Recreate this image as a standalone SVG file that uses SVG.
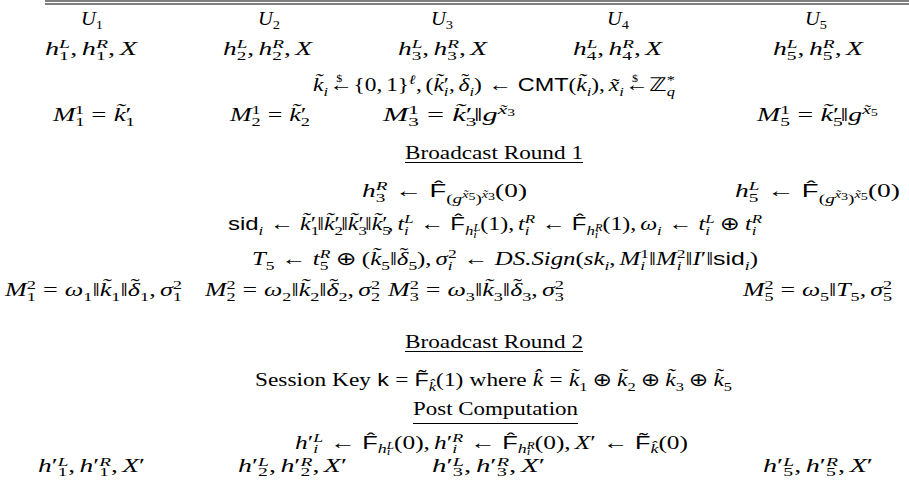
<svg xmlns="http://www.w3.org/2000/svg" width="909" height="494" viewBox="0 0 909 494">
<style>
text{font-family:"Liberation Serif",serif;font-size:18.5px;fill:#000}
.m{font-style:italic}
.s{font-family:"Liberation Sans",sans-serif;font-style:normal}
.b{font-size:13px}
.c{font-size:9.5px}
.z{font-family:"DejaVu Sans",sans-serif;font-style:normal}
.rule{stroke:#000;stroke-width:1.2;fill:none}
</style>
<rect width="909" height="494" fill="#fff"/>
<g id="rules">
<line class="rule" x1="45" y1="1" x2="909" y2="1"/>
<line class="rule" x1="45" y1="4" x2="909" y2="4"/>
<line class="rule" x1="405" y1="162.5" x2="583" y2="162.5"/>
<line class="rule" x1="405" y1="351.5" x2="583" y2="351.5"/>
<line class="rule" x1="413" y1="423.5" x2="578" y2="423.5"/>
</g>
<g id="row-parties">
<text x="81" y="25" textLength="22" lengthAdjust="spacingAndGlyphs"><tspan class="m">U</tspan><tspan class="b" dy="4">1</tspan></text>
<text x="258" y="25" textLength="22" lengthAdjust="spacingAndGlyphs"><tspan class="m">U</tspan><tspan class="b" dy="4">2</tspan></text>
<text x="431" y="25" textLength="22" lengthAdjust="spacingAndGlyphs"><tspan class="m">U</tspan><tspan class="b" dy="4">3</tspan></text>
<text x="607" y="25" textLength="22" lengthAdjust="spacingAndGlyphs"><tspan class="m">U</tspan><tspan class="b" dy="4">4</tspan></text>
<text x="805" y="25" textLength="22" lengthAdjust="spacingAndGlyphs"><tspan class="m">U</tspan><tspan class="b" dy="4">5</tspan></text>
</g>
<g id="row-inputs">
<text x="45" y="55" textLength="92" lengthAdjust="spacingAndGlyphs"><tspan class="m">h</tspan><tspan class="b" dy="5">1</tspan><tspan class="b m" dx="-6.5" dy="-12">L</tspan><tspan dy="7">,</tspan><tspan class="m" dx="3">h</tspan><tspan class="b" dy="5">1</tspan><tspan class="b m" dx="-6.5" dy="-12">R</tspan><tspan dy="7">,</tspan><tspan class="m" dx="3">X</tspan></text>
<text x="223" y="55" textLength="89" lengthAdjust="spacingAndGlyphs"><tspan class="m">h</tspan><tspan class="b" dy="5">2</tspan><tspan class="b m" dx="-6.5" dy="-12">L</tspan><tspan dy="7">,</tspan><tspan class="m" dx="3">h</tspan><tspan class="b" dy="5">2</tspan><tspan class="b m" dx="-6.5" dy="-12">R</tspan><tspan dy="7">,</tspan><tspan class="m" dx="3">X</tspan></text>
<text x="398" y="55" textLength="89" lengthAdjust="spacingAndGlyphs"><tspan class="m">h</tspan><tspan class="b" dy="5">3</tspan><tspan class="b m" dx="-6.5" dy="-12">L</tspan><tspan dy="7">,</tspan><tspan class="m" dx="3">h</tspan><tspan class="b" dy="5">3</tspan><tspan class="b m" dx="-6.5" dy="-12">R</tspan><tspan dy="7">,</tspan><tspan class="m" dx="3">X</tspan></text>
<text x="573" y="55" textLength="89" lengthAdjust="spacingAndGlyphs"><tspan class="m">h</tspan><tspan class="b" dy="5">4</tspan><tspan class="b m" dx="-6.5" dy="-12">L</tspan><tspan dy="7">,</tspan><tspan class="m" dx="3">h</tspan><tspan class="b" dy="5">4</tspan><tspan class="b m" dx="-6.5" dy="-12">R</tspan><tspan dy="7">,</tspan><tspan class="m" dx="3">X</tspan></text>
<text x="773" y="55" textLength="90" lengthAdjust="spacingAndGlyphs"><tspan class="m">h</tspan><tspan class="b" dy="5">5</tspan><tspan class="b m" dx="-6.5" dy="-12">L</tspan><tspan dy="7">,</tspan><tspan class="m" dx="3">h</tspan><tspan class="b" dy="5">5</tspan><tspan class="b m" dx="-6.5" dy="-12">R</tspan><tspan dy="7">,</tspan><tspan class="m" dx="3">X</tspan></text>
</g>
<g id="row-sample">
<text x="313" y="91" textLength="362" lengthAdjust="spacingAndGlyphs"><tspan class="m">k̃</tspan><tspan class="b m" dy="5">i</tspan><tspan dx="1" dy="-5">←</tspan><tspan class="c" dx="-13" dy="-9">$</tspan><tspan dx="9" dy="9">{0,</tspan><tspan dx="3">1}</tspan><tspan class="b m" dy="-7">ℓ</tspan><tspan dy="7">,</tspan><tspan dx="3">(</tspan><tspan class="m">k̃</tspan><tspan class="b m" dy="5">i</tspan><tspan dx="-3.6" dy="-5">′</tspan><tspan>,</tspan><tspan class="m" dx="3">δ</tspan><tspan dx="-6.5" dy="-4">˜</tspan><tspan class="b m" dx="0.3" dy="9">i</tspan><tspan dy="-5">)</tspan><tspan dx="5">←</tspan><tspan class="s" dx="5">CMT</tspan><tspan>(</tspan><tspan class="m">k̃</tspan><tspan class="b m" dy="5">i</tspan><tspan dy="-5">),</tspan><tspan class="m" dx="3">x̃</tspan><tspan class="b m" dy="5">i</tspan><tspan dx="1" dy="-5">←</tspan><tspan class="c" dx="-13" dy="-9">$</tspan><tspan class="z" dx="9" dy="9">ℤ</tspan><tspan class="b m" dy="5">q</tspan><tspan class="b" dx="-6.5" dy="-12">*</tspan></text>
</g>
<g id="row-m1">
<text x="53" y="121" textLength="82" lengthAdjust="spacingAndGlyphs"><tspan class="m">M</tspan><tspan class="b" dy="5">1</tspan><tspan class="b" dx="-6.5" dy="-12">1</tspan><tspan dx="5" dy="7">=</tspan><tspan class="m" dx="5">k̃</tspan><tspan class="b" dy="5">1</tspan><tspan dx="-6.5" dy="-5">′</tspan></text>
<text x="230" y="121" textLength="80" lengthAdjust="spacingAndGlyphs"><tspan class="m">M</tspan><tspan class="b" dy="5">2</tspan><tspan class="b" dx="-6.5" dy="-12">1</tspan><tspan dx="5" dy="7">=</tspan><tspan class="m" dx="5">k̃</tspan><tspan class="b" dy="5">2</tspan><tspan dx="-6.5" dy="-5">′</tspan></text>
<text x="383" y="121" textLength="132" lengthAdjust="spacingAndGlyphs"><tspan class="m">M</tspan><tspan class="b" dy="5">3</tspan><tspan class="b" dx="-6.5" dy="-12">1</tspan><tspan dx="5" dy="7">=</tspan><tspan class="m" dx="5">k̃</tspan><tspan class="b" dy="5">3</tspan><tspan dx="-6.5" dy="-5">′</tspan><tspan dx="1">‖</tspan><tspan class="m">g</tspan><tspan class="b m" dy="-7">x̃</tspan><tspan class="c" dy="2">3</tspan></text>
<text x="757" y="121" textLength="121" lengthAdjust="spacingAndGlyphs"><tspan class="m">M</tspan><tspan class="b" dy="5">5</tspan><tspan class="b" dx="-6.5" dy="-12">1</tspan><tspan dx="5" dy="7">=</tspan><tspan class="m" dx="5">k̃</tspan><tspan class="b" dy="5">5</tspan><tspan dx="-6.5" dy="-5">′</tspan><tspan dx="1">‖</tspan><tspan class="m">g</tspan><tspan class="b m" dy="-7">x̃</tspan><tspan class="c" dy="2">5</tspan></text>
</g>
<g id="round1">
<text x="405" y="159" textLength="178" lengthAdjust="spacingAndGlyphs">Broadcast Round 1</text>
</g>
<g id="row-h">
<text x="362" y="197" textLength="165" lengthAdjust="spacingAndGlyphs"><tspan class="m">h</tspan><tspan class="b" dy="5">3</tspan><tspan class="b m" dx="-6.5" dy="-12">R</tspan><tspan dx="5" dy="7">←</tspan><tspan class="s" dx="5">F̂</tspan><tspan class="b" dy="6">(</tspan><tspan class="b m">g</tspan><tspan class="c m" dy="-5">x̃</tspan><tspan class="c" dy="2">5</tspan><tspan class="b" dy="3">)</tspan><tspan class="c m" dy="-5">x̃</tspan><tspan class="c" dy="2">3</tspan><tspan dy="-3">(0)</tspan></text>
<text x="735" y="197" textLength="165" lengthAdjust="spacingAndGlyphs"><tspan class="m">h</tspan><tspan class="b" dy="5">5</tspan><tspan class="b m" dx="-6.5" dy="-12">L</tspan><tspan dx="5" dy="7">←</tspan><tspan class="s" dx="5">F̂</tspan><tspan class="b" dy="6">(</tspan><tspan class="b m">g</tspan><tspan class="c m" dy="-5">x̃</tspan><tspan class="c" dy="2">3</tspan><tspan class="b" dy="3">)</tspan><tspan class="c m" dy="-5">x̃</tspan><tspan class="c" dy="2">5</tspan><tspan dy="-3">(0)</tspan></text>
</g>
<g id="row-sid">
<text x="228" y="230" textLength="534" lengthAdjust="spacingAndGlyphs"><tspan class="s">sid</tspan><tspan class="b m" dy="5">i</tspan><tspan dx="5" dy="-5">←</tspan><tspan class="m" dx="5">k̃</tspan><tspan class="b" dy="5">1</tspan><tspan dx="-6.5" dy="-5">′</tspan><tspan dx="1">‖</tspan><tspan class="m">k̃</tspan><tspan class="b" dy="5">2</tspan><tspan dx="-6.5" dy="-5">′</tspan><tspan dx="1">‖</tspan><tspan class="m">k̃</tspan><tspan class="b" dy="5">3</tspan><tspan dx="-6.5" dy="-5">′</tspan><tspan dx="1">‖</tspan><tspan class="m">k̃</tspan><tspan class="b" dy="5">5</tspan><tspan dx="-6.5" dy="-5">′</tspan><tspan>,</tspan><tspan class="m" dx="3">t</tspan><tspan class="b m" dy="5">i</tspan><tspan class="b m" dx="-3.6" dy="-12">L</tspan><tspan dx="5" dy="7">←</tspan><tspan class="s" dx="5">F̂</tspan><tspan class="b m" dy="5">h</tspan><tspan class="c m" dy="3">i</tspan><tspan class="c m" dx="-2.6" dy="-7">L</tspan><tspan dy="-1">(1),</tspan><tspan class="m" dx="3">t</tspan><tspan class="b m" dy="5">i</tspan><tspan class="b m" dx="-3.6" dy="-12">R</tspan><tspan dx="5" dy="7">←</tspan><tspan class="s" dx="5">F̂</tspan><tspan class="b m" dy="5">h</tspan><tspan class="c m" dy="3">i</tspan><tspan class="c m" dx="-2.6" dy="-7">R</tspan><tspan dy="-1">(1),</tspan><tspan class="m" dx="3">ω</tspan><tspan class="b m" dy="5">i</tspan><tspan dx="5" dy="-5">←</tspan><tspan class="m" dx="5">t</tspan><tspan class="b m" dy="5">i</tspan><tspan class="b m" dx="-3.6" dy="-12">L</tspan><tspan class="z" dx="4" dy="7">⊕</tspan><tspan class="m" dx="4">t</tspan><tspan class="b m" dy="5">i</tspan><tspan class="b m" dx="-3.6" dy="-12">R</tspan></text>
</g>
<g id="row-sign">
<text x="252" y="265" textLength="506" lengthAdjust="spacingAndGlyphs"><tspan class="m">T</tspan><tspan class="b" dy="5">5</tspan><tspan dx="5" dy="-5">←</tspan><tspan class="m" dx="5">t</tspan><tspan class="b" dy="5">5</tspan><tspan class="b m" dx="-6.5" dy="-12">R</tspan><tspan class="z" dx="4" dy="7">⊕</tspan><tspan dx="4">(</tspan><tspan class="m">k̃</tspan><tspan class="b" dy="5">5</tspan><tspan dy="-5">‖</tspan><tspan class="m">δ</tspan><tspan dx="-6.5" dy="-4">˜</tspan><tspan class="b" dx="0.3" dy="9">5</tspan><tspan dy="-5">),</tspan><tspan class="m" dx="3">σ</tspan><tspan class="b m" dy="5">i</tspan><tspan class="b" dx="-3.6" dy="-12">2</tspan><tspan dx="5" dy="7">←</tspan><tspan class="m" dx="5">DS.Sign</tspan><tspan>(</tspan><tspan class="m">sk</tspan><tspan class="b m" dy="5">i</tspan><tspan dy="-5">,</tspan><tspan class="m" dx="3">M</tspan><tspan class="b m" dy="5">i</tspan><tspan class="b" dx="-3.6" dy="-12">1</tspan><tspan dy="7">‖</tspan><tspan class="m">M</tspan><tspan class="b m" dy="5">i</tspan><tspan class="b" dx="-3.6" dy="-12">2</tspan><tspan dy="7">‖</tspan><tspan class="m">I</tspan><tspan>′‖</tspan><tspan class="s">sid</tspan><tspan class="b m" dy="5">i</tspan><tspan dy="-5">)</tspan></text>
</g>
<g id="row-m2">
<text x="5" y="296" textLength="177" lengthAdjust="spacingAndGlyphs"><tspan class="m">M</tspan><tspan class="b" dy="5">1</tspan><tspan class="b" dx="-6.5" dy="-12">2</tspan><tspan dx="5" dy="7">=</tspan><tspan class="m" dx="5">ω</tspan><tspan class="b" dy="5">1</tspan><tspan dy="-5">‖</tspan><tspan class="m">k̃</tspan><tspan class="b" dy="5">1</tspan><tspan dy="-5">‖</tspan><tspan class="m">δ</tspan><tspan dx="-6.5" dy="-4">˜</tspan><tspan class="b" dx="0.3" dy="9">1</tspan><tspan dy="-5">,</tspan><tspan class="m" dx="3">σ</tspan><tspan class="b" dy="5">1</tspan><tspan class="b" dx="-6.5" dy="-12">2</tspan></text>
<text x="205" y="296" textLength="175" lengthAdjust="spacingAndGlyphs"><tspan class="m">M</tspan><tspan class="b" dy="5">2</tspan><tspan class="b" dx="-6.5" dy="-12">2</tspan><tspan dx="5" dy="7">=</tspan><tspan class="m" dx="5">ω</tspan><tspan class="b" dy="5">2</tspan><tspan dy="-5">‖</tspan><tspan class="m">k̃</tspan><tspan class="b" dy="5">2</tspan><tspan dy="-5">‖</tspan><tspan class="m">δ</tspan><tspan dx="-6.5" dy="-4">˜</tspan><tspan class="b" dx="0.3" dy="9">2</tspan><tspan dy="-5">,</tspan><tspan class="m" dx="3">σ</tspan><tspan class="b" dy="5">2</tspan><tspan class="b" dx="-6.5" dy="-12">2</tspan></text>
<text x="388" y="296" textLength="176" lengthAdjust="spacingAndGlyphs"><tspan class="m">M</tspan><tspan class="b" dy="5">3</tspan><tspan class="b" dx="-6.5" dy="-12">2</tspan><tspan dx="5" dy="7">=</tspan><tspan class="m" dx="5">ω</tspan><tspan class="b" dy="5">3</tspan><tspan dy="-5">‖</tspan><tspan class="m">k̃</tspan><tspan class="b" dy="5">3</tspan><tspan dy="-5">‖</tspan><tspan class="m">δ</tspan><tspan dx="-6.5" dy="-4">˜</tspan><tspan class="b" dx="0.3" dy="9">3</tspan><tspan dy="-5">,</tspan><tspan class="m" dx="3">σ</tspan><tspan class="b" dy="5">3</tspan><tspan class="b" dx="-6.5" dy="-12">2</tspan></text>
<text x="743" y="296" textLength="149" lengthAdjust="spacingAndGlyphs"><tspan class="m">M</tspan><tspan class="b" dy="5">5</tspan><tspan class="b" dx="-6.5" dy="-12">2</tspan><tspan dx="5" dy="7">=</tspan><tspan class="m" dx="5">ω</tspan><tspan class="b" dy="5">5</tspan><tspan dy="-5">‖</tspan><tspan class="m">T</tspan><tspan class="b" dy="5">5</tspan><tspan dy="-5">,</tspan><tspan class="m" dx="3">σ</tspan><tspan class="b" dy="5">5</tspan><tspan class="b" dx="-6.5" dy="-12">2</tspan></text>
</g>
<g id="round2">
<text x="405" y="348" textLength="178" lengthAdjust="spacingAndGlyphs">Broadcast Round 2</text>
</g>
<g id="row-key">
<text x="255" y="386" textLength="477" lengthAdjust="spacingAndGlyphs"><tspan>Session Key</tspan><tspan class="s" dx="5">k</tspan><tspan dx="5">=</tspan><tspan class="s" dx="5">F̃</tspan><tspan class="b m" dy="5">k̂</tspan><tspan dy="-5">(1)</tspan><tspan dx="5">where</tspan><tspan class="m" dx="5">k̂</tspan><tspan dx="5">=</tspan><tspan class="m" dx="5">k̃</tspan><tspan class="b" dy="5">1</tspan><tspan class="z" dx="4" dy="-5">⊕</tspan><tspan class="m" dx="4">k̃</tspan><tspan class="b" dy="5">2</tspan><tspan class="z" dx="4" dy="-5">⊕</tspan><tspan class="m" dx="4">k̃</tspan><tspan class="b" dy="5">3</tspan><tspan class="z" dx="4" dy="-5">⊕</tspan><tspan class="m" dx="4">k̃</tspan><tspan class="b" dy="5">5</tspan></text>
</g>
<g id="post">
<text x="413" y="415" textLength="165" lengthAdjust="spacingAndGlyphs">Post Computation</text>
</g>
<g id="row-update">
<text x="295" y="449" textLength="393" lengthAdjust="spacingAndGlyphs"><tspan class="m">h</tspan><tspan>′</tspan><tspan class="b m" dy="4">i</tspan><tspan class="b m" dx="-3.6" dy="-11">L</tspan><tspan dx="5" dy="7">←</tspan><tspan class="s" dx="5">F̂</tspan><tspan class="b m" dy="4">h</tspan><tspan class="c m" dy="2">i</tspan><tspan class="c m" dx="-2.6" dy="-6">L</tspan><tspan dy="0">(0),</tspan><tspan class="m" dx="3">h</tspan><tspan>′</tspan><tspan class="b m" dy="4">i</tspan><tspan class="b m" dx="-3.6" dy="-11">R</tspan><tspan dx="5" dy="7">←</tspan><tspan class="s" dx="5">F̂</tspan><tspan class="b m" dy="4">h</tspan><tspan class="c m" dy="2">i</tspan><tspan class="c m" dx="-2.6" dy="-6">R</tspan><tspan dy="0">(0),</tspan><tspan class="m" dx="3">X</tspan><tspan>′</tspan><tspan dx="5">←</tspan><tspan class="s" dx="5">F̃</tspan><tspan class="b m" dy="4">k̂</tspan><tspan dy="-4">(0)</tspan></text>
</g>
<g id="row-outputs">
<text x="38" y="472" textLength="107" lengthAdjust="spacingAndGlyphs"><tspan class="m">h</tspan><tspan>′</tspan><tspan class="b" dy="4">1</tspan><tspan class="b m" dx="-6.5" dy="-10">L</tspan><tspan dy="6">,</tspan><tspan class="m" dx="3">h</tspan><tspan>′</tspan><tspan class="b" dy="4">1</tspan><tspan class="b m" dx="-6.5" dy="-10">R</tspan><tspan dy="6">,</tspan><tspan class="m" dx="3">X</tspan><tspan>′</tspan></text>
<text x="238" y="472" textLength="109" lengthAdjust="spacingAndGlyphs"><tspan class="m">h</tspan><tspan>′</tspan><tspan class="b" dy="4">2</tspan><tspan class="b m" dx="-6.5" dy="-10">L</tspan><tspan dy="6">,</tspan><tspan class="m" dx="3">h</tspan><tspan>′</tspan><tspan class="b" dy="4">2</tspan><tspan class="b m" dx="-6.5" dy="-10">R</tspan><tspan dy="6">,</tspan><tspan class="m" dx="3">X</tspan><tspan>′</tspan></text>
<text x="432" y="472" textLength="113" lengthAdjust="spacingAndGlyphs"><tspan class="m">h</tspan><tspan>′</tspan><tspan class="b" dy="4">3</tspan><tspan class="b m" dx="-6.5" dy="-10">L</tspan><tspan dy="6">,</tspan><tspan class="m" dx="3">h</tspan><tspan>′</tspan><tspan class="b" dy="4">3</tspan><tspan class="b m" dx="-6.5" dy="-10">R</tspan><tspan dy="6">,</tspan><tspan class="m" dx="3">X</tspan><tspan>′</tspan></text>
<text x="763" y="472" textLength="110" lengthAdjust="spacingAndGlyphs"><tspan class="m">h</tspan><tspan>′</tspan><tspan class="b" dy="4">5</tspan><tspan class="b m" dx="-6.5" dy="-10">L</tspan><tspan dy="6">,</tspan><tspan class="m" dx="3">h</tspan><tspan>′</tspan><tspan class="b" dy="4">5</tspan><tspan class="b m" dx="-6.5" dy="-10">R</tspan><tspan dy="6">,</tspan><tspan class="m" dx="3">X</tspan><tspan>′</tspan></text>
</g>
</svg>
